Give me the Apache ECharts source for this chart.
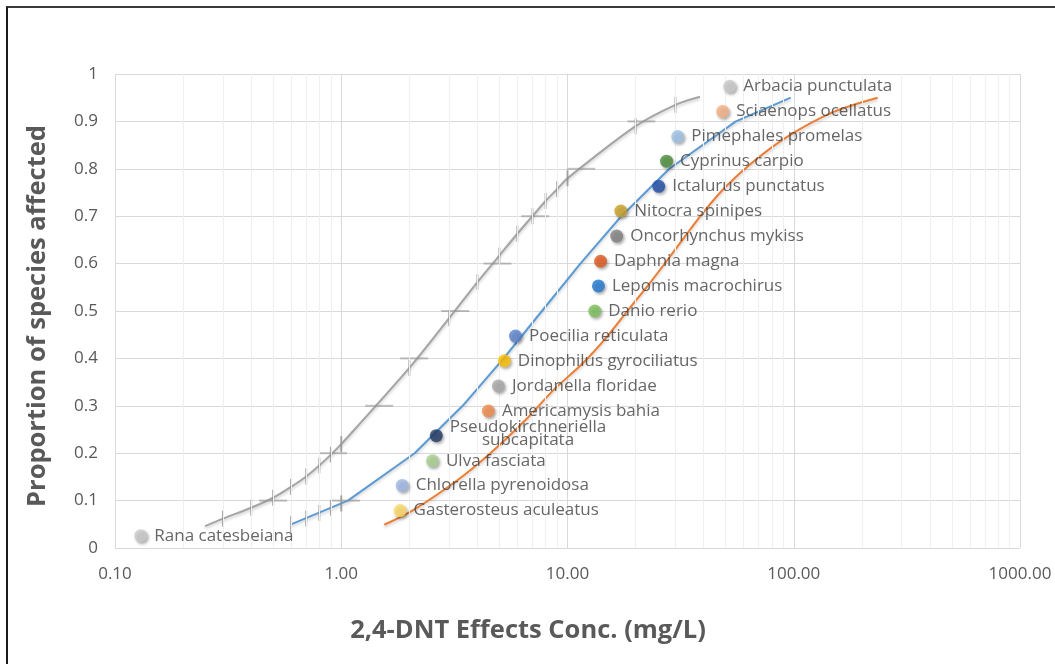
<!DOCTYPE html>
<html><head><meta charset="utf-8">
<script src="https://cdn.jsdelivr.net/npm/echarts@6/dist/echarts.min.js"></script>
<style>
html,body{margin:0;padding:0;overflow:hidden;background:#fff;width:1055px;height:664px;}
#chart{position:absolute;left:0;top:0;width:1055px;height:664px;}
#frame{position:absolute;left:6px;top:6px;width:1200px;height:800px;border-left:2px solid #1a1a1a;border-top:2px solid #3a3a3a;pointer-events:none;}
</style></head><body>
<div id="chart"></div><div id="frame"></div>
<script>
// ---- data ----
const species = ['Rana catesbeiana','Gasterosteus aculeatus','Chlorella pyrenoidosa','Ulva fasciata','Pseudokirchneriella subcapitata','Americamysis bahia','Jordanella floridae','Dinophilus gyrociliatus','Poecilia reticulata','Danio rerio','Lepomis macrochirus','Daphnia magna','Oncorhynchus mykiss','Nitocra spinipes','Ictalurus punctatus','Cyprinus carpio','Pimephales promelas','Sciaenops ocellatus','Arbacia punctulata'];
const speciesConc = [0.13,1.82,1.86,2.53,2.63,4.47,4.95,5.26,5.89,13.2,13.7,14.0,16.5,17.2,25.3,27.4,30.7,48.5,52.1];
const speciesProp = [0.026,0.079,0.132,0.184,0.237,0.289,0.342,0.395,0.447,0.5,0.553,0.605,0.658,0.711,0.763,0.816,0.868,0.921,0.974];
const speciesColors = ['#c9c9c9','#ffd966','#9fb8e6','#a9d18e','#203864','#f08a4b','#a8a8a8','#ffc000','#5b82d0','#7cc05a','#1f78d1','#e0581c','#7f7f7f','#c9a227','#1f4ea8','#4a8c3a','#9dc3e6','#f4b183','#c9c9c9'];

const grayX = [0.25,0.3,0.4,0.5,0.6,0.7,0.8,0.9,1,2,3,4,5,6,7,8,9,10,20,30,38.5];
const grayY = [0.046,0.062,0.085,0.106,0.129,0.151,0.174,0.197,0.219,0.38,0.485,0.561,0.617,0.663,0.7,0.732,0.757,0.78,0.89,0.935,0.952];
const grayBarX = [0.5,0.92,1.47,2.1,3.19,4.9,7.2,11.5,21.2];
const grayBarY = [0.1,0.2,0.3,0.4,0.5,0.6,0.7,0.8,0.9];

const blueX = [0.6,1.07,2.11,3.44,5.22,7.71,11.4,17.3,28.2,55.5,97];
const blueY = [0.05,0.1,0.2,0.3,0.4,0.5,0.6,0.7,0.8,0.9,0.95];
const blueTickX = [0.6,0.7,0.8,0.9,1.0];
const blueTickY = [0.05,0.062,0.074,0.085,0.094];
const blueBarX = [1.05];
const blueBarY = [0.1];

const orangeX = [1.55,2.08,3.26,4.56,6.52,8.67,11.8,14.9,18.4,22.6,27.4,32.9,40.0,50.0,65.8,93.1,150,235];
const orangeY = [0.049,0.08,0.143,0.2,0.27,0.333,0.392,0.445,0.5,0.553,0.605,0.656,0.709,0.762,0.814,0.867,0.92,0.95];

const xTitle = '2,4-DNT Effects Conc. (mg/L)';
const yTitle = 'Proportion of species affected';

// ---- build ----
const FONT = 'Open Sans';
const LABEL_SIZE = 17;
const zip = (a, b) => a.map((v, i) => [v, b[i]]);
const minorVals = [];
[0.1, 1, 10, 100].forEach(d => { for (let k = 2; k <= 9; k++) minorVals.push(+(d * k).toPrecision(3)); });

const cv = document.createElement('canvas').getContext('2d');
cv.font = LABEL_SIZE + 'px "' + FONT + '"';
const pseudoW = cv.measureText('Pseudokirchneriella').width;

const scatterData = species.map((n, i) => {
  const item = { name: n, value: [speciesConc[i], speciesProp[i]], itemStyle: { color: speciesColors[i] } };
  if (n === 'Pseudokirchneriella subcapitata') {
    item.label = { formatter: 'Pseudokirchneriella\nsubcapitata', align: 'center', lineHeight: 13, offset: [pseudoW / 2, -2] };
  }
  return item;
});

const tickSym = { symbol: 'rect', symbolSize: [2, 16], itemStyle: { color: '#8f8f8f', opacity: 0.75 } };
const barSym = { symbol: 'rect', symbolSize: [28, 2], itemStyle: { color: '#8f8f8f', opacity: 0.55 } };
const lineShadow = { shadowColor: 'rgba(0,0,0,0.2)', shadowBlur: 3, shadowOffsetY: 2 };

const chart = echarts.init(document.getElementById('chart'), null, { renderer: 'canvas' });
chart.setOption({
  animation: false,
  backgroundColor: '#fff',
  grid: { left: 115, right: 35, top: 74, bottom: 116 },
  xAxis: {
    type: 'log', logBase: 10, min: 0.1, max: 1000,
    axisLine: { show: false }, axisTick: { show: false },
    splitLine: { show: true, lineStyle: { color: '#d9d9d9', width: 1 } },
    axisLabel: { formatter: v => v.toFixed(2), color: '#595959', fontSize: 17, fontFamily: FONT, margin: 18 }
  },
  yAxis: {
    type: 'value', min: 0, max: 1, interval: 0.1,
    axisLine: { show: false }, axisTick: { show: false },
    splitLine: { show: true, lineStyle: { color: '#d9d9d9', width: 1 } },
    axisLabel: { formatter: v => (v === 0 ? '0' : v === 1 ? '1' : v.toFixed(1)), color: '#595959', fontSize: 17, fontFamily: FONT, margin: 17 }
  },
  graphic: [
    { type: 'text', x: 528, y: 631, style: { text: xTitle, fill: '#595959', font: 'bold 25.5px "' + FONT + '"', align: 'center', verticalAlign: 'middle' } },
    { type: 'text', x: 38, y: 316, rotation: Math.PI / 2, style: { text: yTitle, fill: '#595959', font: 'bold 25.5px "' + FONT + '"', align: 'center', verticalAlign: 'middle' } }
  ],
  series: [
    { type: 'line', data: [], silent: true, z: 0,
      markLine: { silent: true, symbol: ['none', 'none'], label: { show: false },
        lineStyle: { color: '#efefef', type: 'solid', width: 1 },
        data: minorVals.map(v => ({ xAxis: v })) } },
    { type: 'line', data: zip(grayX, grayY), symbol: 'none', smooth: 0.3, lineStyle: { color: '#a5a5a5', width: 2, ...lineShadow }, z: 2 },
    { type: 'scatter', data: zip(grayX.slice(1, -1), grayY.slice(1, -1)), ...tickSym, z: 3, silent: true },
    { type: 'scatter', data: zip(grayBarX, grayBarY), ...barSym, z: 3, silent: true },
    { type: 'line', data: zip(blueX, blueY), symbol: 'none', lineStyle: { color: '#5b9bd5', width: 2, ...lineShadow }, z: 2 },
    { type: 'scatter', data: zip(blueTickX, blueTickY), ...tickSym, z: 3, silent: true },
    { type: 'scatter', data: zip(blueBarX, blueBarY), ...barSym, z: 3, silent: true },
    { type: 'line', data: zip(orangeX, orangeY), symbol: 'none', smooth: 0.3, lineStyle: { color: '#ed7d31', width: 2, ...lineShadow }, z: 2 },
    { type: 'scatter', data: scatterData, symbolSize: 13, z: 5,
      itemStyle: { shadowColor: 'rgba(0,0,0,0.4)', shadowBlur: 3, shadowOffsetX: 1.5, shadowOffsetY: 2 },
      label: { show: true, position: 'right', distance: 7, formatter: p => p.name, color: '#404040', fontSize: LABEL_SIZE, fontFamily: FONT } }
  ]
});
</script>
</body></html>
